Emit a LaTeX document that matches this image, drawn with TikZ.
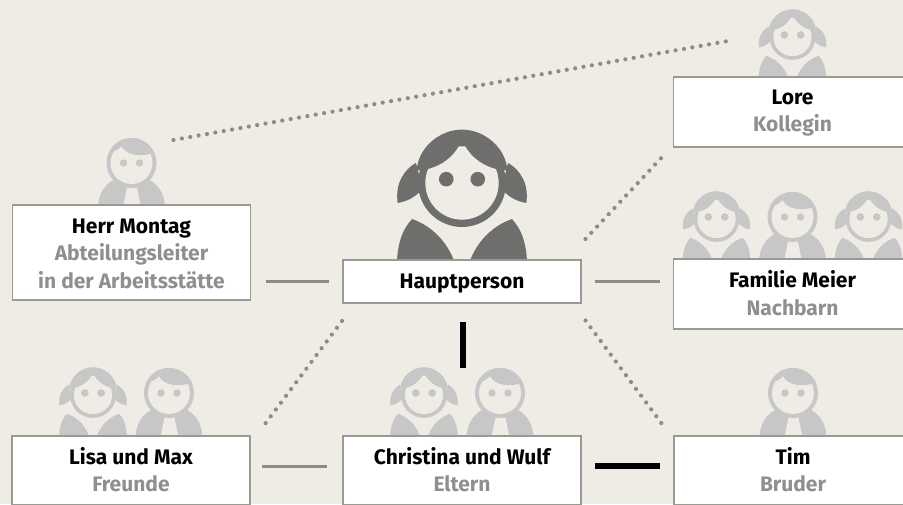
\documentclass[tikz,border=0pt]{standalone}
\usepackage{fontspec}
\setmainfont{Fira Sans}
\usepackage{xcolor}
\usetikzlibrary{positioning,calc,backgrounds}
\definecolor{paper}{HTML}{EFECE5}
\definecolor{persondark}{HTML}{6E6E6C}
\definecolor{personlight}{HTML}{C6C7C6}
\definecolor{boxline}{HTML}{9A9A94}
\definecolor{linkgray}{HTML}{8C8C88}
\definecolor{rolegray}{HTML}{8F8F8F}
\newcommand{\role}[1]{\textcolor{rolegray}{#1}}
\tikzset{
	pics/woman/.style={code={
		\fill[#1] (-26,-18.75) .. controls (-31,-24) and (-34,-32) .. (-33.9,-44) -- (-3,-44) .. controls (-6,-33) and (-14,-23) .. cycle;
		\fill[#1] (26,-18.75) .. controls (31,-24) and (34,-32) .. (33.9,-44) -- (3,-44) .. controls (6,-33) and (14,-23) .. cycle;
		\fill[#1] (-24,10.5) .. controls (-30,7) and (-35,0) .. (-33.5,-10.4) .. controls (-28,-9.5) and (-24,-7) .. (-20.5,-3) -- cycle;
		\fill[#1] (24,10.5) .. controls (30,7) and (35,0) .. (33.5,-10.4) .. controls (28,-9.5) and (24,-7) .. (20.5,-3) -- cycle;
		\fill[#1] (0,0) circle (22.9);
		\fill[paper] (0,0) circle (19.1);
		\fill[#1] (-23.6,6.6) .. controls (-23,18) and (-12,27.8) .. (0,27.8) .. controls (12,27.8) and (23,18) .. (23.6,6.6) .. controls (14,6.5) and (3,13) .. (0,23.4) .. controls (-3,13) and (-14,6.5) .. cycle;
		\fill[#1] (-8.2,2) circle (3.8);
		\fill[#1] (8.2,2) circle (3.8);
	}},
	pics/man/.style={code={
		\fill[#1] (-33.5,-44) .. controls (-33,-30) and (-26,-20) .. (-14,-15) -- (14,-15) .. controls (26,-20) and (33,-30) .. (33.5,-44) -- cycle;
		\fill[paper] (-3.5,-20) -- (4.5,-20) -- (9.5,-44) -- (-8.5,-44) -- cycle;
		\fill[#1] (0,0) circle (25);
		\fill[paper] (0,0) circle (21);
		\fill[#1] (157:25) arc (157:24:25) .. controls (10,6) and (-5,7) .. (-10,17) .. controls (-13,13) and (-18,11) .. cycle;
		\fill[#1] (-8,0) circle (3.7);
		\fill[#1] (8,0) circle (3.7);
	}},
	box/.style={draw=boxline,fill=white,line width=1.5pt,minimum width=238pt,align=center,outer sep=0pt,
		inner sep=0pt,font=\fontsize{21}{27.6}\selectfont\bfseries},
	lift/.style={text height=#1,text depth=0pt},
	link/.style={draw=linkgray,line width=3pt},
	strong/.style={draw=black,line width=6pt},
	dots/.style={draw=linkgray,line width=4.2pt,line cap=round,dash pattern=on 0pt off 8.5pt}
}
\begin{document}
\begin{tikzpicture}[x=1pt,y=1pt]
	\useasboundingbox (0,0) rectangle (903,504);
	\node[box,lift=13.6pt,minimum height=43pt] (haupt) at (462,222.5) {Hauptperson};
	\node[box,lift=71.6pt,minimum height=95pt] (montag) at (131.5,251.5) {Herr Montag\\\role{Abteilungsleiter}\\\role{in der Arbeitsstätte}};
	\node[box,lift=39.4pt,minimum height=70pt] (lore) at (792.5,392) {Lore\\\role{Kollegin}};
	\node[box,lift=42.6pt,minimum height=70pt] (familie) at (792.5,210) {Familie Meier\\\role{Nachbarn}};
	\node[box,lift=42.4pt,minimum height=69pt] (christina) at (462,33.5) {Christina und Wulf\\\role{Eltern}};
	\node[box,lift=42.4pt,minimum height=69pt] (lisa) [left=93pt of christina] {Lisa und Max\\\role{Freunde}};
	\node[box,lift=42.4pt,minimum height=69pt] (tim) [right=93pt of christina] {Tim\\\role{Bruder}};
	\begin{scope}[on background layer]
		\fill[paper] (0,0) rectangle (903,504);
		\pic[scale=1.92] at ($(haupt.north)+(0,77)$) {woman=persondark};
		\pic at ($(montag.north)+(0,42)$) {man=personlight};
		\pic at ($(lore.north)+(0,40)$) {woman=personlight};
		\pic at ($(familie.north)+(-76,40)$) {woman=personlight};
		\pic at ($(familie.north)+(0,42)$) {man=personlight};
		\pic at ($(familie.north)+(76,40)$) {woman=personlight};
		\pic at ($(lisa.north)+(-38,41)$) {woman=personlight};
		\pic at ($(lisa.north)+(38,43)$) {man=personlight};
		\pic at ($(christina.north)+(-38,41)$) {woman=personlight};
		\pic at ($(christina.north)+(38,43)$) {man=personlight};
		\pic at ($(tim.north)+(0,43)$) {man=personlight};
	\end{scope}
	\coordinate (montagend) at (173.5,364);
	\coordinate (loreend) at (728,463);
	\coordinate (hauptne) at (585.5,265);
	\coordinate (lorene) at (664,349);
	\coordinate (hauptse) at (585.5,183.5);
	\coordinate (timend) at (663.5,78);
	\coordinate (hauptsw) at (342,183);
	\coordinate (lisaend) at (263.5,78);
	\draw[link,shorten <=15pt,shorten >=14pt] (haupt.west -| montag.east) -- (haupt.west);
	\draw[link,shorten <=14pt,shorten >=14pt] (haupt.east) -- (haupt.east -| familie.west);
	\draw[link,shorten <=12pt,shorten >=16pt] ([yshift=4pt]lisa.east) -- ([yshift=4pt]christina.west);
	\draw[strong,shorten <=14pt,shorten >=14pt] ([yshift=5pt]christina.east) -- ([yshift=5pt]tim.west);
	\draw[strong,shorten <=19pt,shorten >=68pt] ([xshift=1pt]haupt.south) -- ([xshift=1pt]christina.north);
	\draw[dots] (montagend) -- (loreend);
	\draw[dots] (hauptne) -- (lorene);
	\draw[dots] (hauptse) -- (timend);
	\draw[dots] (hauptsw) -- (lisaend);
\end{tikzpicture}
\end{document}
